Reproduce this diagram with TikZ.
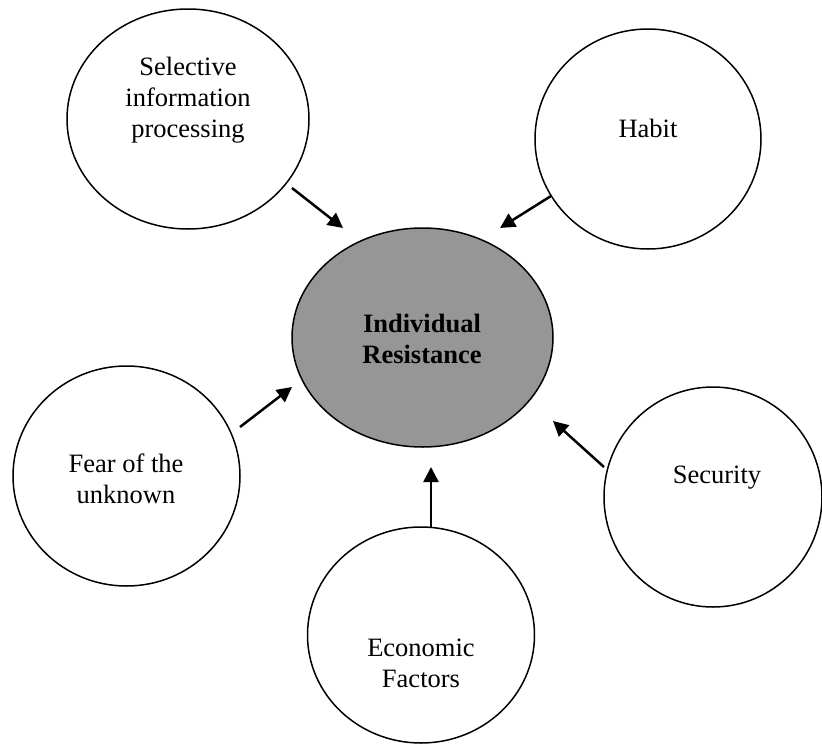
\documentclass[tikz,border=0pt]{standalone}
\usepackage{fontspec}
\setmainfont{Liberation Serif}
\usetikzlibrary{shapes.geometric,arrows.meta}
\definecolor{hubgray}{RGB}{150,150,150}
\begin{document}
\begin{tikzpicture}[x=1pt,y=-1pt,
  factor/.style={draw=black, line width=1.5pt, ellipse, inner sep=0pt, fill=white},
  hub/.style={factor, fill=hubgray},
  caption/.style={align=center, font=\fontsize{26.5}{31}\selectfont, inner sep=0pt},
  push/.style={line width=2.5pt, -{Triangle[length=15pt,width=15pt]}}]
\useasboundingbox (0,0) rectangle (822,744);

% outer factors and the central hub
\node[factor, minimum width=242pt, minimum height=220pt] (sel) at (188,119) {};
\node[factor, minimum width=226pt, minimum height=220pt] (hab) at (648,139) {};
\node[factor, minimum width=227pt, minimum height=220pt] (fear) at (126.5,476) {};
\node[factor, minimum width=218pt, minimum height=220pt] (sec) at (713,497) {};
\node[factor, minimum width=227pt, minimum height=216pt] (eco) at (421,635) {};
\node[hub, minimum width=261pt, minimum height=219pt] (ctr) at (422.5,337.5) {};

% captions
\node[caption] (sel-t) at (188,100) {Selective\\information\\processing};
\node[caption] (hab-t) at (648,128) {Habit};
\node[caption] (fear-t) at (126,479) {Fear of the\\unknown};
\node[caption] (sec-t) at (717,478) {Security};
\node[caption] (eco-t) at (421,663) {Economic\\Factors};
\node[caption, font=\fontsize{26.5}{31}\selectfont\bfseries] (ctr-t) at (422,339) {Individual\\Resistance};

% arrow end points
\coordinate (sel-a) at (292,188);  \coordinate (sel-b) at (343,228);
\coordinate (hab-a) at (551,196);  \coordinate (hab-b) at (500,228);
\coordinate (fear-a) at (240,427); \coordinate (fear-b) at (292,387);
\coordinate (eco-a) at (431,527);  \coordinate (eco-b) at (431,467);
\coordinate (sec-a) at (604,467);  \coordinate (sec-b) at (553,421);

% influences pointing at the hub
\draw[push] (sel-a) -- (sel-b);
\draw[push] (hab-a) -- (hab-b);
\draw[push] (fear-a) -- (fear-b);
\draw[push] (eco-a) -- (eco-b);
\draw[push] (sec-a) -- (sec-b);
\end{tikzpicture}
\end{document}
